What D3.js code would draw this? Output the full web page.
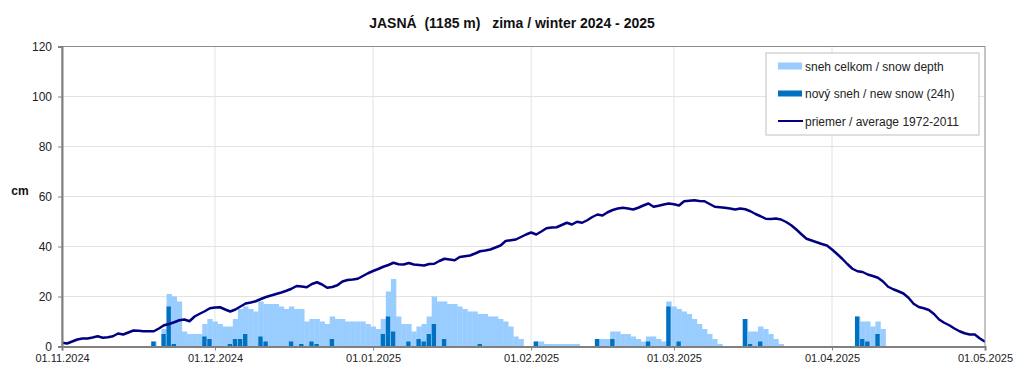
<!DOCTYPE html>
<html>
<head>
<meta charset="utf-8">
<script src="https://cdn.jsdelivr.net/npm/d3@7/dist/d3.min.js"></script>
<style>
  html, body { margin: 0; padding: 0; background: #fff; }
  svg { display: block; font-family: "Liberation Sans", Arial, sans-serif; }
</style>
</head>
<body>
<svg id="chart" width="1024" height="390"></svg>
<script>
// daily values, 01.11.2024 .. 01.05.2025 (182 days)
const snowDepth = [
  // Nov
  0,0,0,0,0,0,0,0,0,0, 0,0,0,0,0,0,0,0,2,0, 7,21,20,18,6,5,5,5,9,11,
  // Dec
  10,9,8,8,11,15,16,15,14,18, 17,17,17,16,15,16,15,15,10,11, 11,10,9,12,11,11,10,10,10,10, 9,
  // Jan
  8,7,11,22,27,12,9,9,6,8, 9,12,20,18,18,17,17,16,15,14, 14,13,13,12,12,11,10,8,4,3, 0,
  // Feb
  0,2,2,1,1,1,1,1,1,1, 0,0,0,3,3,3,6,6,5,5, 4,3,2,4,4,3,2,18,
  // Mar
  16,15,14,13,11,9,7,5,3,1, 0,0,0,0,11,6,6,8,7,5, 3,1,0,0,0,0,0,0,0,0, 0,
  // Apr + 01.05
  0,0,0,0,0,12,10,10,8,10, 7,0,0,0,0,0,0,0,0,0, 0,0,0,0,0,0,0,0,0,0, 0
];
const newSnow = [
  0,0,0,0,0,0,0,0,0,0, 0,0,0,0,0,0,0,0,2,0, 5,16,1,0,0,0,0,0,4,3,
  0,0,0,1,3,3,5,0,0,4, 2,0,0,0,0,2,0,1,0,2, 1,0,0,3,0,0,0,0,0,0, 0,
  0,0,5,12,6,0,0,2,0,3, 2,5,9,0,3,0,0,0,0,0, 0,1,0,0,0,0,0,0,0,0, 0,
  0,2,0,0,0,0,0,0,0,0, 0,0,0,3,0,0,3,0,0,0, 0,0,0,2,0,0,0,16,
  0,2,0,0,0,0,0,0,0,0, 0,0,0,0,11,1,0,2,0,0, 0,0,0,0,0,0,0,0,0,0, 0,
  0,0,0,0,0,12,3,2,0,5, 0,0,0,0,0,0,0,0,0,0, 0,0,0,0,0,0,0,0,0,0, 0
];
const average = [
  1.5,1.2,2.0,2.8,3.2,3.2,3.6,4.1,3.5,3.7, 4.1,5.2,4.8,5.6,6.4,6.3,6.1,6.1,6.1,7.2,
  8.5,9.0,9.7,10.5,10.8,10.1,12.0,13.1,14.1,15.3,
  15.6,15.7,14.8,14.0,14.8,16.0,17.2,17.6,18.1,19.0, 19.8,20.4,21.0,21.6,22.3,23.1,24.2,24.0,23.7,25.0,
  25.7,24.8,23.5,23.8,24.5,26.0,26.6,26.8,27.1,28.2, 29.3,
  30.2,31.0,31.9,32.6,33.5,32.9,32.8,33.4,32.8,32.6, 32.4,33.0,33.1,34.2,35.1,34.8,34.5,35.8,36.1,36.4,
  37.2,38.1,38.4,38.8,39.6,40.4,42.2,42.5,42.8,43.8, 44.8,
  45.6,44.8,46.0,47.3,47.6,47.7,48.6,49.5,48.8,49.9, 49.5,50.5,51.8,52.8,52.4,53.7,54.6,55.2,55.5,55.2,
  54.8,55.5,56.4,57.2,55.9,56.3,56.8,57.2,
  56.9,56.4,58.1,58.3,58.5,58.2,58.1,57.0,55.9,55.7, 55.5,55.2,54.8,55.2,54.9,54.1,53.0,52.1,51.1,51.0,
  51.2,50.8,49.8,48.5,46.8,44.9,43.1,42.4,41.7,41.0, 40.4,
  38.8,37.0,35.1,33.0,31.1,30.1,29.8,28.8,28.2,27.5, 26.0,23.9,22.9,22.1,21.2,19.5,17.1,15.8,15.3,14.6,
  13.0,10.8,9.5,8.5,7.2,6.1,5.3,4.8,4.8,3.2, 1.9
];
const tickDates = ["2024-11-01","2024-12-01","2025-01-01","2025-02-01","2025-03-01","2025-04-01","2025-05-01"];
const yTicks = [0, 20, 40, 60, 80, 100, 120];
const legendLabels = ["sneh celkom / snow depth", "nový sneh / new snow (24h)", "priemer / average 1972-2011"];
const titleText = "JASNÁ  (1185 m)   zima / winter 2024 - 2025";

const startDate = new Date(2024, 10, 1);
const days = d3.range(average.length).map(i => d3.timeDay.offset(startDate, i));
const rows = days.map((date, i) => ({ date, depth: snowDepth[i], fresh: newSnow[i], avg: average[i] }));

const margin = { left: 62, right: 39, top: 46.5, bottom: 43.5 };
const W = 1024, H = 390;
const svg = d3.select("#chart");

const x = d3.scaleTime()
  .domain([startDate, days[days.length - 1]])
  .range([margin.left, W - margin.right]);
const y = d3.scaleLinear()
  .domain([0, 120])
  .range([H - margin.bottom, margin.top]);

const dayW = x(days[1]) - x(days[0]);
const ticks = tickDates.map(s => d3.timeParse("%Y-%m-%d")(s));

// grid
svg.append("g").selectAll("line.h")
  .data(yTicks.slice(1, -1))
  .join("line")
  .attr("x1", margin.left).attr("x2", W - margin.right)
  .attr("y1", d => y(d)).attr("y2", d => y(d))
  .attr("stroke", "#e3e3e3").attr("stroke-width", 1);
svg.append("g").selectAll("line.v")
  .data(ticks.slice(1, -1))
  .join("line")
  .attr("x1", d => x(d)).attr("x2", d => x(d))
  .attr("y1", margin.top).attr("y2", H - margin.bottom)
  .attr("stroke", "#e3e3e3").attr("stroke-width", 1);

// clip so bars stay inside plot
svg.append("clipPath").attr("id", "plotclip")
  .append("rect")
  .attr("x", margin.left).attr("y", margin.top)
  .attr("width", W - margin.left - margin.right)
  .attr("height", H - margin.top - margin.bottom);

const plot = svg.append("g").attr("clip-path", "url(#plotclip)");

plot.append("g").selectAll("rect")
  .data(rows.filter(d => d.depth > 0))
  .join("rect")
  .attr("x", d => x(d.date) - dayW / 2)
  .attr("width", dayW + 0.3)
  .attr("y", d => y(d.depth))
  .attr("height", d => y(0) - y(d.depth))
  .attr("fill", "#99ccff");

plot.append("g").selectAll("rect")
  .data(rows.filter(d => d.fresh > 0))
  .join("rect")
  .attr("x", d => x(d.date) - dayW / 2)
  .attr("width", dayW * 0.85)
  .attr("y", d => y(d.fresh))
  .attr("height", d => y(0) - y(d.fresh))
  .attr("fill", "#0070c0");

plot.append("path")
  .datum(rows)
  .attr("fill", "none")
  .attr("stroke", "#000080")
  .attr("stroke-width", 2.5)
  .attr("stroke-linejoin", "round")
  .attr("d", d3.line().x(d => x(d.date)).y(d => y(d.avg)));

// frame
svg.append("rect")
  .attr("x", margin.left).attr("y", margin.top)
  .attr("width", W - margin.left - margin.right)
  .attr("height", H - margin.top - margin.bottom)
  .attr("fill", "none").attr("stroke", "#8c8c8c").attr("stroke-width", 1);

// axes
const yAxis = svg.append("g")
  .attr("transform", `translate(${margin.left},0)`)
  .call(d3.axisLeft(y).tickValues(yTicks).tickSize(4).tickPadding(6));
yAxis.select(".domain").attr("stroke", "#808080").attr("stroke-width", 2);
yAxis.selectAll(".tick line").attr("stroke", "#808080");
yAxis.selectAll("text").attr("font-size", 12).attr("fill", "#222")
  .attr("font-family", "Liberation Sans, Arial, sans-serif");

const xAxis = svg.append("g")
  .attr("transform", `translate(0,${H - margin.bottom})`)
  .call(d3.axisBottom(x).tickValues(ticks).tickSize(4).tickPadding(4).tickFormat(d3.timeFormat("%d.%m.%Y")));
xAxis.select(".domain").attr("stroke", "#808080").attr("stroke-width", 2);
xAxis.selectAll(".tick line").attr("stroke", "#808080");
xAxis.selectAll("text").attr("font-size", 11).attr("fill", "#222")
  .attr("font-family", "Liberation Sans, Arial, sans-serif");

// title + unit
svg.append("text")
  .attr("x", 512).attr("y", 28)
  .attr("text-anchor", "middle")
  .attr("font-size", 14).attr("font-weight", "bold").attr("fill", "#111")
  .style("white-space", "pre")
  .text(titleText);

svg.append("text")
  .attr("x", 20).attr("y", 195)
  .attr("text-anchor", "middle")
  .attr("font-size", 12).attr("font-weight", "bold").attr("fill", "#111")
  .text("cm");

// legend
const lg = svg.append("g").attr("transform", "translate(766,53)");
lg.append("rect").attr("width", 213).attr("height", 82)
  .attr("fill", "#fff").attr("stroke", "#bfbfbf").attr("stroke-width", 1);
const items = lg.selectAll("g.item")
  .data(legendLabels)
  .join("g")
  .attr("transform", (d, i) => `translate(0,${13 + i * 27.5})`);
items.filter((d, i) => i === 0).append("rect")
  .attr("x", 12).attr("y", -3.5).attr("width", 24).attr("height", 7).attr("fill", "#99ccff");
items.filter((d, i) => i === 1).append("rect")
  .attr("x", 12).attr("y", -3).attr("width", 24).attr("height", 6).attr("fill", "#0070c0");
items.filter((d, i) => i === 2).append("line")
  .attr("x1", 12).attr("x2", 37).attr("stroke", "#000080").attr("stroke-width", 2);
items.append("text")
  .attr("x", 39).attr("y", 4.5)
  .attr("font-size", 12).attr("fill", "#222")
  .text(d => d);
</script>
</body>
</html>
